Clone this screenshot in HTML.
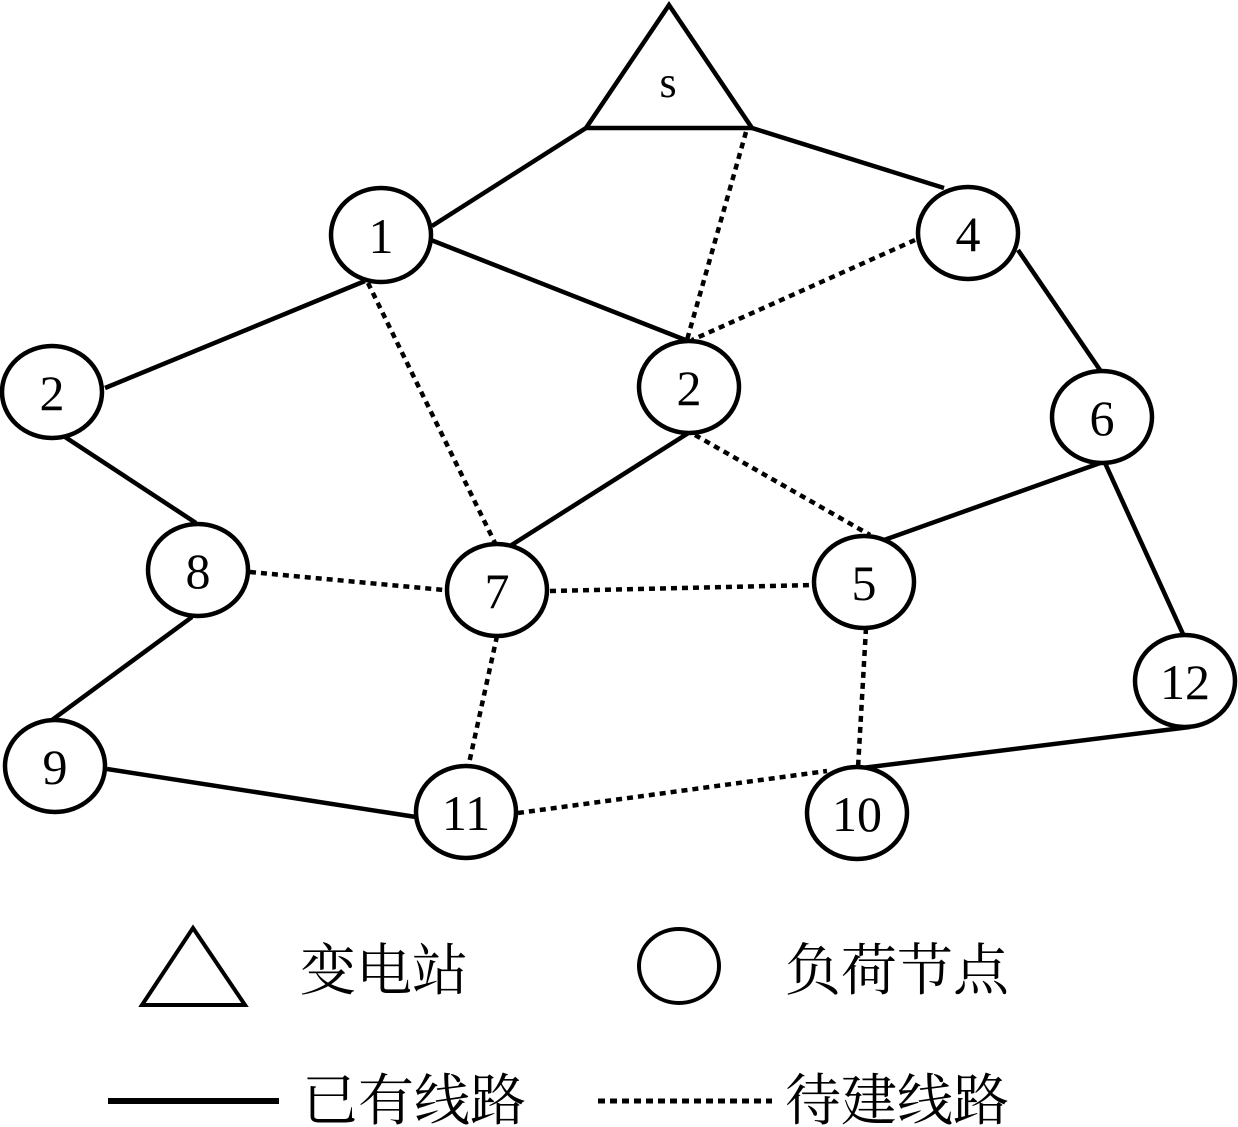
<!DOCTYPE html>
<html><head><meta charset="utf-8"><style>
html,body{margin:0;padding:0;background:#fff}
svg{display:block}
text{font-family:"Liberation Serif","Noto Serif CJK SC",serif;fill:#000}
</style></head><body>
<svg width="1238" height="1127" viewBox="0 0 1238 1127" xmlns="http://www.w3.org/2000/svg">
<g stroke="#000" stroke-width="4.5" fill="none">
<line x1="586" y1="128" x2="432" y2="226"/>
<line x1="752" y1="128" x2="944" y2="188"/>
<line x1="431" y1="240" x2="688" y2="341"/>
<line x1="365" y1="281" x2="105" y2="388"/>
<line x1="62" y1="435" x2="196" y2="523"/>
<line x1="192" y1="617" x2="52" y2="720"/>
<line x1="107" y1="769" x2="416" y2="817"/>
<line x1="1018" y1="250" x2="1100" y2="370"/>
<line x1="1103" y1="462" x2="884" y2="540"/>
<line x1="1105" y1="463" x2="1183" y2="634"/>
<line x1="1190" y1="727" x2="862" y2="768"/>
<line x1="690" y1="432" x2="510" y2="546"/>
</g>
<g stroke="#000" stroke-width="4.5" fill="none" stroke-dasharray="6,5">
<line x1="746" y1="132" x2="687" y2="340"/>
<line x1="915" y1="240" x2="692" y2="340"/>
<line x1="368" y1="283" x2="495" y2="543"/>
<line x1="695" y1="435" x2="870" y2="535"/>
<line x1="250" y1="572" x2="444" y2="590"/>
<line x1="550" y1="591" x2="812" y2="585"/>
<line x1="497" y1="636" x2="468" y2="768"/>
<line x1="866" y1="628" x2="858" y2="768"/>
<line x1="518" y1="813" x2="827" y2="771"/>
</g>
<polygon points="669,5 586,128 752,128" fill="#fff" stroke="#000" stroke-width="4.5"/>
<text x="668" y="97" font-size="44" text-anchor="middle">s</text>
<g stroke="#000" stroke-width="4.5" fill="#fff">
<ellipse cx="381" cy="235" rx="50" ry="47"/>
<ellipse cx="52" cy="392" rx="50" ry="46"/>
<ellipse cx="689" cy="387" rx="50" ry="46"/>
<ellipse cx="968" cy="233" rx="50" ry="46"/>
<ellipse cx="1102" cy="417" rx="50" ry="46"/>
<ellipse cx="198" cy="570" rx="50" ry="46"/>
<ellipse cx="497" cy="590" rx="50" ry="46"/>
<ellipse cx="864" cy="582" rx="50" ry="46"/>
<ellipse cx="1185" cy="681" rx="50" ry="46"/>
<ellipse cx="55" cy="766" rx="50" ry="46"/>
<ellipse cx="466" cy="812" rx="50" ry="46"/>
<ellipse cx="857" cy="813" rx="50" ry="46"/>
</g>
<g font-size="50" text-anchor="middle">
<text x="381" y="253">1</text>
<text x="52" y="410">2</text>
<text x="689" y="405">2</text>
<text x="968" y="251">4</text>
<text x="1102" y="435">6</text>
<text x="198" y="588">8</text>
<text x="497" y="608">7</text>
<text x="864" y="600">5</text>
<text x="1185" y="699">12</text>
<text x="55" y="784">9</text>
<text x="466" y="830">11</text>
<text x="857" y="831">10</text>
</g>
<polygon points="193,928 142,1005 245,1005" fill="#fff" stroke="#000" stroke-width="4"/>
<ellipse cx="679" cy="966" rx="40" ry="37" fill="#fff" stroke="#000" stroke-width="4"/>
<line x1="108" y1="1101" x2="279" y2="1101" stroke="#000" stroke-width="6"/>
<line x1="598" y1="1101" x2="772" y2="1101" stroke="#000" stroke-width="5" stroke-dasharray="7,5"/>
<g font-size="56">
<text x="300" y="990">变电站</text>
<text x="785" y="990">负荷节点</text>
<text x="302" y="1120">已有线路</text>
<text x="785" y="1120">待建线路</text>
</g>
</svg>
</body></html>
